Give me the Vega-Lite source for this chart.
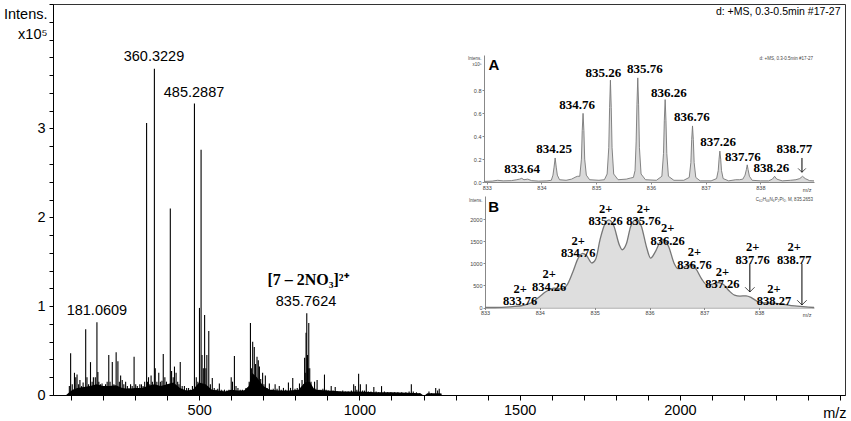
{
  "$schema": "https://vega.github.io/schema/vega-lite/v6.json",
  "width": 792,
  "height": 391,
  "autosize": {"type": "none"},
  "padding": {"left": 53, "top": 4, "right": 6, "bottom": 26},
  "background": "white",
  "config": {
    "font": "Liberation Sans",
    "view": {"stroke": "#333333", "strokeWidth": 1},
    "axis": {"grid": false, "labelColor": "black", "tickColor": "black", "domainColor": "black", "titleColor": "black", "titleFontWeight": "normal"}
  },
  "datasets": {
    "peaks": [
      {"mz": 95, "intensity": 0.1}, {"mz": 99, "intensity": 0.47}, {"mz": 104, "intensity": 0.12}, {"mz": 111, "intensity": 0.25},
      {"mz": 115, "intensity": 0.2}, {"mz": 119, "intensity": 0.23}, {"mz": 124, "intensity": 0.12}, {"mz": 128, "intensity": 0.17},
      {"mz": 133, "intensity": 0.1}, {"mz": 138, "intensity": 0.14}, {"mz": 146, "intensity": 0.74}, {"mz": 150, "intensity": 0.2},
      {"mz": 155, "intensity": 0.12}, {"mz": 161, "intensity": 0.37}, {"mz": 166, "intensity": 0.15}, {"mz": 170, "intensity": 0.2},
      {"mz": 176, "intensity": 0.2}, {"mz": 181.06, "intensity": 0.82}, {"mz": 184, "intensity": 0.26}, {"mz": 187, "intensity": 0.15},
      {"mz": 192, "intensity": 0.12}, {"mz": 197, "intensity": 0.13}, {"mz": 203, "intensity": 0.1}, {"mz": 208, "intensity": 0.12},
      {"mz": 213, "intensity": 0.15}, {"mz": 218, "intensity": 0.45}, {"mz": 222, "intensity": 0.15}, {"mz": 229, "intensity": 0.37},
      {"mz": 234, "intensity": 0.12}, {"mz": 241, "intensity": 0.48}, {"mz": 246.5, "intensity": 0.38}, {"mz": 251, "intensity": 0.15},
      {"mz": 255, "intensity": 0.22}, {"mz": 260, "intensity": 0.17}, {"mz": 265, "intensity": 0.12}, {"mz": 270.6, "intensity": 0.15},
      {"mz": 276, "intensity": 0.1}, {"mz": 281, "intensity": 0.08}, {"mz": 286, "intensity": 0.12}, {"mz": 291, "intensity": 0.1},
      {"mz": 297, "intensity": 0.43}, {"mz": 302, "intensity": 0.12}, {"mz": 307, "intensity": 0.1}, {"mz": 315, "intensity": 0.12},
      {"mz": 320, "intensity": 0.12}, {"mz": 325, "intensity": 0.1}, {"mz": 330, "intensity": 0.15}, {"mz": 336, "intensity": 3.06},
      {"mz": 339, "intensity": 0.15}, {"mz": 342, "intensity": 0.2}, {"mz": 346, "intensity": 0.12}, {"mz": 350, "intensity": 0.22},
      {"mz": 354, "intensity": 0.15}, {"mz": 360.32, "intensity": 3.67}, {"mz": 363, "intensity": 0.3}, {"mz": 368, "intensity": 0.15},
      {"mz": 374, "intensity": 0.25}, {"mz": 379, "intensity": 0.15}, {"mz": 384, "intensity": 0.16}, {"mz": 388, "intensity": 0.46},
      {"mz": 393, "intensity": 0.2}, {"mz": 398, "intensity": 0.15}, {"mz": 403, "intensity": 0.12}, {"mz": 410, "intensity": 2.1},
      {"mz": 414, "intensity": 0.27}, {"mz": 419, "intensity": 0.2}, {"mz": 423, "intensity": 0.32}, {"mz": 428, "intensity": 0.25},
      {"mz": 433, "intensity": 0.15}, {"mz": 437, "intensity": 0.12}, {"mz": 441, "intensity": 0.37}, {"mz": 447, "intensity": 0.1},
      {"mz": 454, "intensity": 0.1}, {"mz": 461, "intensity": 0.08}, {"mz": 467, "intensity": 0.08}, {"mz": 473, "intensity": 0.06},
      {"mz": 479, "intensity": 0.1}, {"mz": 485.29, "intensity": 3.28}, {"mz": 491, "intensity": 0.2}, {"mz": 496, "intensity": 0.15},
      {"mz": 501, "intensity": 0.98}, {"mz": 506, "intensity": 2.76}, {"mz": 509, "intensity": 0.45}, {"mz": 513, "intensity": 0.3},
      {"mz": 517, "intensity": 0.9}, {"mz": 521, "intensity": 0.3}, {"mz": 524, "intensity": 0.45}, {"mz": 530, "intensity": 0.72},
      {"mz": 535, "intensity": 0.12}, {"mz": 541, "intensity": 0.19}, {"mz": 547, "intensity": 0.08}, {"mz": 553, "intensity": 0.06},
      {"mz": 558, "intensity": 0.07}, {"mz": 563, "intensity": 0.13}, {"mz": 569, "intensity": 0.06}, {"mz": 574, "intensity": 0.05},
      {"mz": 579, "intensity": 0.06}, {"mz": 586, "intensity": 0.05}, {"mz": 593, "intensity": 0.06}, {"mz": 600, "intensity": 0.2},
      {"mz": 604, "intensity": 0.15}, {"mz": 610, "intensity": 0.44}, {"mz": 615, "intensity": 0.1}, {"mz": 621, "intensity": 0.08},
      {"mz": 628, "intensity": 0.06}, {"mz": 635, "intensity": 0.06}, {"mz": 640, "intensity": 0.05}, {"mz": 646, "intensity": 0.08},
      {"mz": 652, "intensity": 0.06}, {"mz": 656, "intensity": 0.15}, {"mz": 660, "intensity": 0.81}, {"mz": 663, "intensity": 0.3},
      {"mz": 667, "intensity": 0.6}, {"mz": 672, "intensity": 0.54}, {"mz": 676, "intensity": 0.35}, {"mz": 680.5, "intensity": 0.43},
      {"mz": 684.5, "intensity": 0.39}, {"mz": 688, "intensity": 0.32}, {"mz": 692, "intensity": 0.18}, {"mz": 698, "intensity": 0.25},
      {"mz": 702, "intensity": 0.12}, {"mz": 706.5, "intensity": 0.22}, {"mz": 712, "intensity": 0.08}, {"mz": 719, "intensity": 0.13},
      {"mz": 725, "intensity": 0.06}, {"mz": 731, "intensity": 0.07}, {"mz": 737, "intensity": 0.12}, {"mz": 743, "intensity": 0.07},
      {"mz": 750, "intensity": 0.1}, {"mz": 756, "intensity": 0.06}, {"mz": 763, "intensity": 0.08}, {"mz": 770, "intensity": 0.06},
      {"mz": 778.5, "intensity": 0.14}, {"mz": 785, "intensity": 0.08}, {"mz": 792, "intensity": 0.19}, {"mz": 799, "intensity": 0.07},
      {"mz": 806, "intensity": 0.08}, {"mz": 813, "intensity": 0.13}, {"mz": 821, "intensity": 0.17}, {"mz": 826, "intensity": 0.12},
      {"mz": 829, "intensity": 0.42}, {"mz": 831, "intensity": 0.25}, {"mz": 833.5, "intensity": 0.7}, {"mz": 835.76, "intensity": 0.92},
      {"mz": 838, "intensity": 0.45}, {"mz": 840, "intensity": 0.3}, {"mz": 842, "intensity": 0.81}, {"mz": 845, "intensity": 0.3},
      {"mz": 849, "intensity": 0.15}, {"mz": 854, "intensity": 0.08}, {"mz": 860, "intensity": 0.15}, {"mz": 864, "intensity": 0.07},
      {"mz": 868, "intensity": 0.17}, {"mz": 874, "intensity": 0.06}, {"mz": 880, "intensity": 0.06}, {"mz": 886, "intensity": 0.07},
      {"mz": 891, "intensity": 0.23}, {"mz": 896, "intensity": 0.06}, {"mz": 903, "intensity": 0.05}, {"mz": 912, "intensity": 0.1},
      {"mz": 918, "intensity": 0.05}, {"mz": 924.5, "intensity": 0.09}, {"mz": 932, "intensity": 0.04}, {"mz": 940, "intensity": 0.04},
      {"mz": 948, "intensity": 0.05}, {"mz": 956, "intensity": 0.04}, {"mz": 965, "intensity": 0.04}, {"mz": 975, "intensity": 0.05},
      {"mz": 982, "intensity": 0.12}, {"mz": 987, "intensity": 0.1}, {"mz": 992, "intensity": 0.06}, {"mz": 997.5, "intensity": 0.24},
      {"mz": 1003, "intensity": 0.12}, {"mz": 1010, "intensity": 0.05}, {"mz": 1016, "intensity": 0.05}, {"mz": 1021.5, "intensity": 0.12},
      {"mz": 1028, "intensity": 0.04}, {"mz": 1036, "intensity": 0.04}, {"mz": 1045, "intensity": 0.09}, {"mz": 1052, "intensity": 0.04},
      {"mz": 1060, "intensity": 0.03}, {"mz": 1069, "intensity": 0.1}, {"mz": 1078, "intensity": 0.04}, {"mz": 1088, "intensity": 0.03},
      {"mz": 1098, "intensity": 0.03}, {"mz": 1110, "intensity": 0.03}, {"mz": 1120, "intensity": 0.03}, {"mz": 1132, "intensity": 0.03},
      {"mz": 1145, "intensity": 0.03}, {"mz": 1155, "intensity": 0.04}, {"mz": 1162, "intensity": 0.12}, {"mz": 1168, "intensity": 0.04},
      {"mz": 1178, "intensity": 0.03}, {"mz": 1188, "intensity": 0.02}, {"mz": 1217, "intensity": 0.04}, {"mz": 1225, "intensity": 0.02},
      {"mz": 1238, "intensity": 0.08}, {"mz": 1244, "intensity": 0.05}, {"mz": 1249, "intensity": 0.07}, {"mz": 1254, "intensity": 0.02}
    ],
    "baseline": [
      {"mz": 85, "intensity": 0}, {"mz": 95, "intensity": 0.03}, {"mz": 105, "intensity": 0.06}, {"mz": 120, "intensity": 0.08},
      {"mz": 140, "intensity": 0.09}, {"mz": 160, "intensity": 0.1}, {"mz": 180, "intensity": 0.12}, {"mz": 200, "intensity": 0.1},
      {"mz": 220, "intensity": 0.1}, {"mz": 240, "intensity": 0.11}, {"mz": 260, "intensity": 0.08}, {"mz": 280, "intensity": 0.07},
      {"mz": 300, "intensity": 0.08}, {"mz": 320, "intensity": 0.08}, {"mz": 340, "intensity": 0.1}, {"mz": 360, "intensity": 0.12},
      {"mz": 380, "intensity": 0.1}, {"mz": 400, "intensity": 0.12}, {"mz": 420, "intensity": 0.14}, {"mz": 440, "intensity": 0.08},
      {"mz": 460, "intensity": 0.05}, {"mz": 480, "intensity": 0.06}, {"mz": 500, "intensity": 0.14}, {"mz": 520, "intensity": 0.12},
      {"mz": 540, "intensity": 0.06}, {"mz": 560, "intensity": 0.05}, {"mz": 580, "intensity": 0.04}, {"mz": 600, "intensity": 0.06},
      {"mz": 620, "intensity": 0.05}, {"mz": 640, "intensity": 0.05}, {"mz": 655, "intensity": 0.1}, {"mz": 665, "intensity": 0.25},
      {"mz": 680, "intensity": 0.2}, {"mz": 700, "intensity": 0.1}, {"mz": 720, "intensity": 0.06}, {"mz": 750, "intensity": 0.05},
      {"mz": 780, "intensity": 0.05}, {"mz": 810, "intensity": 0.06}, {"mz": 830, "intensity": 0.14}, {"mz": 845, "intensity": 0.15},
      {"mz": 860, "intensity": 0.06}, {"mz": 900, "intensity": 0.05}, {"mz": 950, "intensity": 0.04}, {"mz": 1000, "intensity": 0.04},
      {"mz": 1050, "intensity": 0.03}, {"mz": 1100, "intensity": 0.03}, {"mz": 1150, "intensity": 0.025}, {"mz": 1190, "intensity": 0.02},
      {"mz": 1198, "intensity": 0.0}, {"mz": 1205, "intensity": 0.0}, {"mz": 1212, "intensity": 0.02}, {"mz": 1250, "intensity": 0.02},
      {"mz": 1258, "intensity": 0}
    ],
    "mainLabels": [
      {"mz": 359, "intensity": 3.8, "label": "360.3229"},
      {"mz": 484, "intensity": 3.4, "label": "485.2887"},
      {"mz": 181, "intensity": 0.945, "label": "181.0609"},
      {"mz": 833.4, "intensity": 1.046, "label": "835.7624"}
    ],
    "ionLabel": [{"mz": 839.6, "intensity": 1.294, "label": "[7 – 2NO₃]²⁺"}],
    "infoLabel": [{"mz": 2501, "intensity": 4.31, "label": "d: +MS, 0.3-0.5min #17-27"}],
    "insetA": [
      {"mz": 832.95, "intensity": 0.005}, {"mz": 833.1, "intensity": 0.008}, {"mz": 833.2, "intensity": 0.015}, {"mz": 833.3, "intensity": 0.01},
      {"mz": 833.45, "intensity": 0.012}, {"mz": 833.55, "intensity": 0.02}, {"mz": 833.6, "intensity": 0.025}, {"mz": 833.64, "intensity": 0.032},
      {"mz": 833.68, "intensity": 0.02}, {"mz": 833.75, "intensity": 0.025}, {"mz": 833.82, "intensity": 0.012}, {"mz": 833.95, "intensity": 0.008},
      {"mz": 834.1, "intensity": 0.01}, {"mz": 834.18, "intensity": 0.015}, {"mz": 834.21, "intensity": 0.06}, {"mz": 834.23, "intensity": 0.13},
      {"mz": 834.25, "intensity": 0.21}, {"mz": 834.27, "intensity": 0.13}, {"mz": 834.29, "intensity": 0.06}, {"mz": 834.33, "intensity": 0.02},
      {"mz": 834.45, "intensity": 0.015}, {"mz": 834.55, "intensity": 0.025}, {"mz": 834.63, "intensity": 0.045}, {"mz": 834.66, "intensity": 0.05},
      {"mz": 834.7, "intensity": 0.05}, {"mz": 834.73, "intensity": 0.2}, {"mz": 834.745, "intensity": 0.45}, {"mz": 834.76, "intensity": 0.6},
      {"mz": 834.775, "intensity": 0.45}, {"mz": 834.79, "intensity": 0.2}, {"mz": 834.82, "intensity": 0.06}, {"mz": 834.88, "intensity": 0.02},
      {"mz": 835.05, "intensity": 0.015}, {"mz": 835.15, "intensity": 0.02}, {"mz": 835.2, "intensity": 0.07}, {"mz": 835.23, "intensity": 0.3},
      {"mz": 835.245, "intensity": 0.65}, {"mz": 835.26, "intensity": 0.89}, {"mz": 835.275, "intensity": 0.65}, {"mz": 835.29, "intensity": 0.3},
      {"mz": 835.32, "intensity": 0.07}, {"mz": 835.4, "intensity": 0.02}, {"mz": 835.55, "intensity": 0.025}, {"mz": 835.63, "intensity": 0.035},
      {"mz": 835.68, "intensity": 0.04}, {"mz": 835.71, "intensity": 0.1}, {"mz": 835.73, "intensity": 0.35}, {"mz": 835.745, "intensity": 0.68},
      {"mz": 835.76, "intensity": 0.91}, {"mz": 835.775, "intensity": 0.68}, {"mz": 835.79, "intensity": 0.3}, {"mz": 835.82, "intensity": 0.07},
      {"mz": 835.9, "intensity": 0.02}, {"mz": 836.1, "intensity": 0.015}, {"mz": 836.2, "intensity": 0.05}, {"mz": 836.23, "intensity": 0.25},
      {"mz": 836.245, "intensity": 0.54}, {"mz": 836.26, "intensity": 0.72}, {"mz": 836.275, "intensity": 0.54}, {"mz": 836.29, "intensity": 0.25},
      {"mz": 836.32, "intensity": 0.05}, {"mz": 836.42, "intensity": 0.015}, {"mz": 836.6, "intensity": 0.015}, {"mz": 836.7, "intensity": 0.04},
      {"mz": 836.73, "intensity": 0.17}, {"mz": 836.745, "intensity": 0.37}, {"mz": 836.76, "intensity": 0.49}, {"mz": 836.775, "intensity": 0.37},
      {"mz": 836.79, "intensity": 0.17}, {"mz": 836.82, "intensity": 0.04}, {"mz": 836.9, "intensity": 0.01}, {"mz": 837.1, "intensity": 0.01},
      {"mz": 837.2, "intensity": 0.03}, {"mz": 837.23, "intensity": 0.1}, {"mz": 837.245, "intensity": 0.2}, {"mz": 837.26, "intensity": 0.27},
      {"mz": 837.275, "intensity": 0.2}, {"mz": 837.29, "intensity": 0.1}, {"mz": 837.32, "intensity": 0.03}, {"mz": 837.42, "intensity": 0.01},
      {"mz": 837.55, "intensity": 0.02}, {"mz": 837.62, "intensity": 0.02}, {"mz": 837.68, "intensity": 0.025}, {"mz": 837.72, "intensity": 0.06},
      {"mz": 837.745, "intensity": 0.11}, {"mz": 837.76, "intensity": 0.15}, {"mz": 837.775, "intensity": 0.11}, {"mz": 837.8, "intensity": 0.05},
      {"mz": 837.85, "intensity": 0.015}, {"mz": 838.0, "intensity": 0.01}, {"mz": 838.15, "intensity": 0.01}, {"mz": 838.22, "intensity": 0.025},
      {"mz": 838.26, "intensity": 0.05}, {"mz": 838.3, "intensity": 0.025}, {"mz": 838.4, "intensity": 0.01}, {"mz": 838.55, "intensity": 0.015},
      {"mz": 838.65, "intensity": 0.02}, {"mz": 838.72, "intensity": 0.03}, {"mz": 838.77, "intensity": 0.05}, {"mz": 838.82, "intensity": 0.03},
      {"mz": 838.9, "intensity": 0.012}, {"mz": 838.98, "intensity": 0.01}
    ],
    "insetALabels": [
      {"mz": 833.645, "intensity": 0.111, "label": "833.64"},
      {"mz": 834.23, "intensity": 0.287, "label": "834.25"},
      {"mz": 834.65, "intensity": 0.673, "label": "834.76"},
      {"mz": 835.13, "intensity": 0.954, "label": "835.26"},
      {"mz": 835.89, "intensity": 0.989, "label": "835.76"},
      {"mz": 836.33, "intensity": 0.778, "label": "836.26"},
      {"mz": 836.75, "intensity": 0.568, "label": "836.76"},
      {"mz": 837.23, "intensity": 0.348, "label": "837.26"},
      {"mz": 837.68, "intensity": 0.217, "label": "837.76"},
      {"mz": 838.2, "intensity": 0.12, "label": "838.26"},
      {"mz": 838.62, "intensity": 0.287, "label": "838.77"}
    ],
    "insetB": [
      {"mz": 833.0, "intensity": 0}, {"mz": 833.3, "intensity": 5}, {"mz": 833.5, "intensity": 20}, {"mz": 833.7, "intensity": 50},
      {"mz": 833.85, "intensity": 110}, {"mz": 834.0, "intensity": 250}, {"mz": 834.1, "intensity": 350}, {"mz": 834.2, "intensity": 420},
      {"mz": 834.26, "intensity": 440}, {"mz": 834.4, "intensity": 420}, {"mz": 834.5, "intensity": 520}, {"mz": 834.6, "intensity": 800},
      {"mz": 834.7, "intensity": 1120}, {"mz": 834.78, "intensity": 1230}, {"mz": 834.85, "intensity": 1180}, {"mz": 834.95, "intensity": 1010},
      {"mz": 835.02, "intensity": 1100}, {"mz": 835.1, "intensity": 1550}, {"mz": 835.2, "intensity": 1930}, {"mz": 835.26, "intensity": 1990},
      {"mz": 835.35, "intensity": 1850}, {"mz": 835.45, "intensity": 1420}, {"mz": 835.5, "intensity": 1310}, {"mz": 835.58, "intensity": 1450},
      {"mz": 835.66, "intensity": 1850}, {"mz": 835.76, "intensity": 2000}, {"mz": 835.85, "intensity": 1850}, {"mz": 835.95, "intensity": 1350},
      {"mz": 836.02, "intensity": 1120}, {"mz": 836.1, "intensity": 1250}, {"mz": 836.2, "intensity": 1500}, {"mz": 836.26, "intensity": 1540},
      {"mz": 836.35, "intensity": 1380}, {"mz": 836.45, "intensity": 1000}, {"mz": 836.52, "intensity": 880}, {"mz": 836.6, "intensity": 900},
      {"mz": 836.7, "intensity": 960}, {"mz": 836.76, "intensity": 970}, {"mz": 836.85, "intensity": 870}, {"mz": 836.95, "intensity": 650},
      {"mz": 837.05, "intensity": 510}, {"mz": 837.15, "intensity": 530}, {"mz": 837.26, "intensity": 565}, {"mz": 837.35, "intensity": 520},
      {"mz": 837.45, "intensity": 380}, {"mz": 837.55, "intensity": 280}, {"mz": 837.65, "intensity": 260}, {"mz": 837.76, "intensity": 265},
      {"mz": 837.85, "intensity": 230}, {"mz": 837.95, "intensity": 150}, {"mz": 838.05, "intensity": 110}, {"mz": 838.2, "intensity": 100},
      {"mz": 838.35, "intensity": 90}, {"mz": 838.5, "intensity": 60}, {"mz": 838.65, "intensity": 35}, {"mz": 838.8, "intensity": 20},
      {"mz": 838.9, "intensity": 10}, {"mz": 839.0, "intensity": 0}
    ],
    "insetBLabels": [
      {"mz": 833.64, "intensity": 420, "label": "2+\n833.76"},
      {"mz": 834.17, "intensity": 760, "label": "2+\n834.26"},
      {"mz": 834.7, "intensity": 1511, "label": "2+\n834.76"},
      {"mz": 835.2, "intensity": 2239, "label": "2+\n835.26"},
      {"mz": 835.89, "intensity": 2239, "label": "2+\n835.76"},
      {"mz": 836.33, "intensity": 1796, "label": "2+\n836.26"},
      {"mz": 836.82, "intensity": 1250, "label": "2+\n836.76"},
      {"mz": 837.33, "intensity": 810, "label": "2+\n837.26"},
      {"mz": 837.88, "intensity": 1364, "label": "2+\n837.76"},
      {"mz": 838.27, "intensity": 430, "label": "2+\n838.27"},
      {"mz": 838.64, "intensity": 1364, "label": "2+\n838.77"}
    ],
    "arrowsB": [
      {"mz": 837.83, "top": 989, "bottom": 352},
      {"mz": 838.78, "top": 989, "bottom": 57}
    ],
    "arrowsA": [
      {"mz": 838.76, "top": 0.21, "bottom": 0.085}
    ]
  },
  "layer": [
    {
      "encoding": {
        "x": {
          "field": "mz", "type": "quantitative",
          "scale": {"domain": [44, 2515], "nice": false, "zero": false},
          "axis": {
            "orient": "bottom",
            "values": [100, 200, 300, 400, 500, 600, 700, 800, 900, 1000, 1100, 1200, 1300, 1400, 1500, 1600, 1700, 1800, 1900, 2000, 2100, 2200, 2300, 2400, 2500],
            "format": "d",
            "labelExpr": "(datum.value % 500 == 0 && datum.value < 2500) ? datum.label : ''",
            "tickSize": 5, "labelFontSize": 14.5, "labelPadding": 3, "labelFlush": false, "labelOverlap": false,
            "title": "m/z", "titleFontSize": 14.5, "titleAlign": "right", "titleAnchor": null,
            "titleX": 793, "titleY": 22, "titleBaseline": "alphabetic"
          }
        },
        "y": {
          "field": "intensity", "type": "quantitative",
          "scale": {"domain": [0, 4.4], "nice": false, "zero": true},
          "axis": {
            "orient": "left",
            "values": [0, 0.2, 0.4, 0.6, 0.8, 1, 1.2, 1.4, 1.6, 1.8, 2, 2.2, 2.4, 2.6, 2.8, 3, 3.2, 3.4, 3.6, 3.8, 4, 4.2, 4.4],
            "labelExpr": "(datum.value == 0 || datum.value == 1 || datum.value == 2 || datum.value == 3) ? format(datum.value, 'd') : ''",
            "tickSize": 4, "labelFontSize": 14.5, "labelPadding": 4, "labelFlush": false, "labelOverlap": false,
            "title": ["Intens.", "x10⁵"], "titleFontSize": 14.5, "titleAngle": 0, "titleAlign": "right", "titleAnchor": null,
            "titleX": -6, "titleY": 14, "titleBaseline": "alphabetic", "titleLineHeight": 20
          }
        }
      },
      "layer": [
        {"data": {"name": "baseline"}, "mark": {"type": "area", "color": "black", "interpolate": "linear"}},
        {"data": {"name": "peaks"}, "mark": {"type": "rule", "color": "black", "strokeWidth": 1.1}, "encoding": {"y2": {"datum": 0}}},
        {"data": {"name": "mainLabels"}, "mark": {"type": "text", "fontSize": 14.5, "baseline": "middle", "align": "center", "color": "black"}, "encoding": {"text": {"field": "label"}}},
        {"data": {"name": "ionLabel"}, "mark": {"type": "text", "font": "Liberation Serif", "fontWeight": "bold", "fontSize": 16, "baseline": "middle", "align": "center", "color": "black"}, "encoding": {"text": {"field": "label"}}},
        {"data": {"name": "infoLabel"}, "mark": {"type": "text", "fontSize": 10.5, "baseline": "middle", "align": "right", "color": "black"}, "encoding": {"text": {"field": "label"}}}
      ]
    },
    {
      "encoding": {
        "x": {
          "field": "mz", "type": "quantitative",
          "scale": {"domain": [832.95, 838.98], "range": [431, 761], "nice": false, "zero": false},
          "axis": {
            "orient": "bottom", "offset": -213, "values": [833, 834, 835, 836, 837, 838], "format": "d",
            "tickSize": 2, "labelFontSize": 5.5, "labelPadding": 1, "labelColor": "#444", "domainColor": "#888", "tickColor": "#888",
            "labelFlush": false,
            "title": "m/z", "titleFontSize": 5.5, "titleColor": "#444", "titleAlign": "right", "titleAnchor": null, "titleX": 758, "titleY": 9, "titleBaseline": "alphabetic"
          }
        },
        "y": {
          "field": "intensity", "type": "quantitative",
          "scale": {"domain": [0, 1.11], "range": [178, 51], "nice": false, "zero": false},
          "axis": {
            "orient": "left", "offset": -431, "values": [0, 0.2, 0.4, 0.6, 0.8], "format": ".1f",
            "tickSize": 2, "labelFontSize": 5.5, "labelPadding": 1, "labelColor": "#444", "domainColor": "#888", "tickColor": "#888",
            "labelFlush": false,
            "title": ["Intens.", "x10⁵"], "titleFontSize": 4.5, "titleColor": "#444", "titleAngle": 0, "titleAlign": "right", "titleAnchor": null,
            "titleX": -3, "titleY": 55, "titleBaseline": "alphabetic", "titleLineHeight": 6
          }
        }
      },
      "layer": [
        {"data": {"values": [{}]}, "mark": {"type": "rect", "fill": "white", "stroke": "#999", "strokeWidth": 0.8},
         "encoding": {"x": {"datum": 832.95}, "x2": {"datum": 838.98}, "y": {"datum": 0}, "y2": {"datum": 1.11}}},
        {"data": {"name": "insetA"}, "mark": {"type": "area", "color": "#dadada", "interpolate": "linear"}},
        {"data": {"name": "insetA"}, "mark": {"type": "line", "color": "#777", "strokeWidth": 0.9, "interpolate": "linear"}},
        {"data": {"name": "insetALabels"}, "mark": {"type": "text", "font": "Liberation Serif", "fontWeight": "bold", "fontSize": 13, "baseline": "middle", "align": "center", "color": "black"}, "encoding": {"text": {"field": "label"}}},
        {"data": {"name": "arrowsA"}, "mark": {"type": "rule", "color": "black", "strokeWidth": 1}, "encoding": {"y": {"field": "top", "type": "quantitative"}, "y2": {"field": "bottom"}}},
        {"data": {"name": "arrowsA"}, "mark": {"type": "point", "shape": "M -1 -1 L 0 0 L 1 -1", "filled": false, "color": "black", "strokeWidth": 1, "size": 60}, "encoding": {"y": {"field": "bottom", "type": "quantitative"}}},
        {"data": {"values": [{"mz": 833.13, "intensity": 1.024, "label": "A"}]}, "mark": {"type": "text", "fontWeight": "bold", "fontSize": 15, "baseline": "middle", "align": "center", "color": "black"}, "encoding": {"text": {"field": "label"}}},
        {"data": {"values": [{"mz": 838.96, "intensity": 1.076, "label": "d: +MS, 0.3-0.5min #17-27"}]}, "mark": {"type": "text", "fontSize": 4.5, "baseline": "middle", "align": "right", "color": "#444"}, "encoding": {"text": {"field": "label"}}}
      ]
    },
    {
      "encoding": {
        "x": {
          "field": "mz", "type": "quantitative",
          "scale": {"domain": [833, 839], "range": [432, 761], "nice": false, "zero": false},
          "axis": {
            "orient": "bottom", "offset": -87.5, "values": [833, 834, 835, 836, 837, 838], "format": "d",
            "tickSize": 2, "labelFontSize": 5.5, "labelPadding": 1, "labelColor": "#444", "domainColor": "#888", "tickColor": "#888",
            "labelFlush": false,
            "title": "m/z", "titleFontSize": 5.5, "titleColor": "#444", "titleAlign": "right", "titleAnchor": null, "titleX": 758, "titleY": 9, "titleBaseline": "alphabetic"
          }
        },
        "y": {
          "field": "intensity", "type": "quantitative",
          "scale": {"domain": [0, 2530], "range": [303.5, 192], "nice": false, "zero": false},
          "axis": {
            "orient": "left", "offset": -432, "values": [0, 500, 1000, 1500, 2000], "format": "d",
            "tickSize": 2, "labelFontSize": 5.5, "labelPadding": 1, "labelColor": "#444", "domainColor": "#888", "tickColor": "#888",
            "labelFlush": false,
            "title": "Intens.", "titleFontSize": 4.5, "titleColor": "#444", "titleAngle": 0, "titleAlign": "right", "titleAnchor": null,
            "titleX": -3, "titleY": 197, "titleBaseline": "alphabetic"
          }
        }
      },
      "layer": [
        {"data": {"values": [{}]}, "mark": {"type": "rect", "fill": "white", "stroke": "#999", "strokeWidth": 0.8},
         "encoding": {"x": {"datum": 833}, "x2": {"datum": 839}, "y": {"datum": 0}, "y2": {"datum": 2530}}},
        {"data": {"name": "insetB"}, "mark": {"type": "area", "color": "#dedede", "interpolate": "monotone"}},
        {"data": {"name": "insetB"}, "mark": {"type": "line", "color": "#777", "strokeWidth": 1.3, "interpolate": "monotone"}},
        {"data": {"name": "insetBLabels"}, "mark": {"type": "text", "font": "Liberation Serif", "fontWeight": "bold", "fontSize": 12.5, "lineHeight": 12.5, "lineBreak": "\n", "baseline": "middle", "align": "center", "color": "black"}, "encoding": {"text": {"field": "label"}}},
        {"data": {"name": "arrowsB"}, "mark": {"type": "rule", "color": "black", "strokeWidth": 1}, "encoding": {"y": {"field": "top", "type": "quantitative"}, "y2": {"field": "bottom"}}},
        {"data": {"name": "arrowsB"}, "mark": {"type": "point", "shape": "M -1 -1 L 0 0 L 1 -1", "filled": false, "color": "black", "strokeWidth": 1, "size": 90}, "encoding": {"y": {"field": "bottom", "type": "quantitative"}}},
        {"data": {"values": [{"mz": 833.16, "intensity": 2284, "label": "B"}]}, "mark": {"type": "text", "fontWeight": "bold", "fontSize": 15, "baseline": "middle", "align": "center", "color": "black"}, "encoding": {"text": {"field": "label"}}},
        {"data": {"values": [{"mz": 838.98, "intensity": 2443, "label": "C₆₂H₆₆N₆P₂Pt₂, M, 835.2653"}]}, "mark": {"type": "text", "fontSize": 4.5, "baseline": "middle", "align": "right", "color": "#444"}, "encoding": {"text": {"field": "label"}}}
      ]
    }
  ],
  "resolve": {"scale": {"x": "independent", "y": "independent"}}
}
